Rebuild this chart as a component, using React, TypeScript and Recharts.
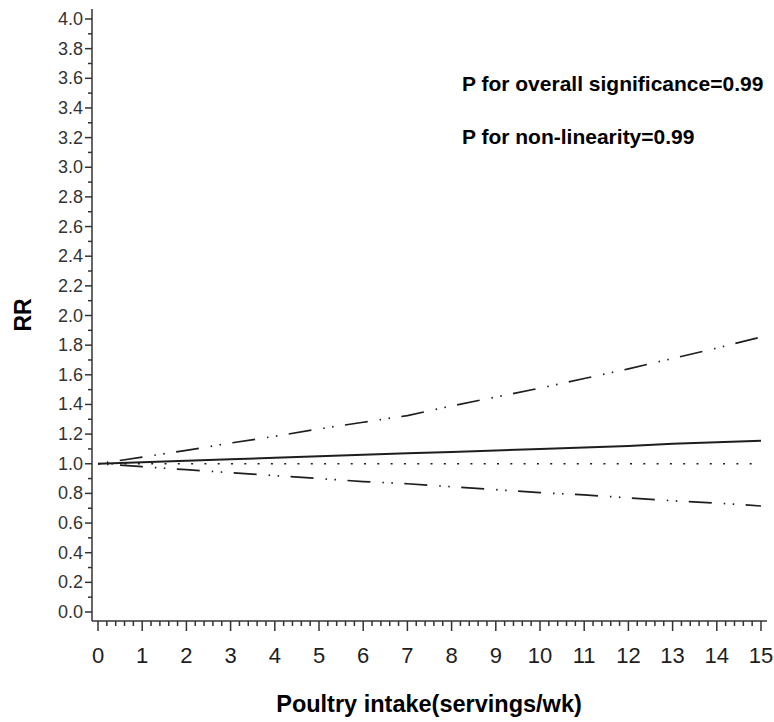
import React from 'react';
import { LineChart, Line, XAxis, YAxis } from 'recharts';

// servings/wk at which the curves were read
const intake = [0, 1, 2, 3, 4, 5, 6, 7, 8, 9, 10, 11, 12, 13, 14, 15];
// pooled relative risk (solid line)
const rrEstimate = [1.0, 1.01, 1.02, 1.03, 1.04, 1.05, 1.06, 1.07, 1.08, 1.09, 1.1, 1.11, 1.12, 1.135, 1.145, 1.155];
// upper 95% CI (dash-dot-dot)
const upperCI = [1.0, 1.045, 1.09, 1.14, 1.185, 1.235, 1.28, 1.325, 1.39, 1.45, 1.51, 1.575, 1.64, 1.71, 1.78, 1.855];
// lower 95% CI (dash-dot-dot)
const lowerCI = [1.0, 0.98, 0.96, 0.94, 0.92, 0.9, 0.88, 0.865, 0.845, 0.825, 0.805, 0.79, 0.77, 0.75, 0.735, 0.715];
// reference RR = 1 (dotted)
const reference = [1, 1, 1, 1, 1, 1, 1, 1, 1, 1, 1, 1, 1, 1, 1, 1];

const xMajorTicks = [0, 1, 2, 3, 4, 5, 6, 7, 8, 9, 10, 11, 12, 13, 14, 15];
const yMajorTicks = ['0.0', '0.2', '0.4', '0.6', '0.8', '1.0', '1.2', '1.4', '1.6', '1.8', '2.0', '2.2', '2.4', '2.6', '2.8', '3.0', '3.2', '3.4', '3.6', '3.8', '4.0'];

const annotations = ['P for overall significance=0.99', 'P for non-linearity=0.99'];

const rows = intake.map((x, i) => ({
  x,
  rr: rrEstimate[i],
  upper: upperCI[i],
  lower: lowerCI[i],
  ref: reference[i],
}));

// minor ticks every 0.2 on x, every 0.1 on y
const xTicks: number[] = [];
for (let i = 0; i <= 75; i++) xTicks.push(Number((i * 0.2).toFixed(1)));
const yTicks: number[] = [];
for (let i = 0; i <= 40; i++) yTicks.push(Number((i * 0.1).toFixed(1)));

const AXIS = '#333';
const INK = '#1e1e1e';
const FONT = '"Liberation Sans", Arial, sans-serif';

const XTick = (props: any) => {
  const { x, y, payload } = props;
  const major = xMajorTicks.includes(payload.value);
  return (
    <g>
      <line x1={x} x2={x} y1={y} y2={y + (major ? 10 : 5)} stroke={AXIS} strokeWidth={1.5} />
      {major && (
        <text x={x} y={y + 42} textAnchor="middle" fontSize={22} fontFamily={FONT} fill={INK}>
          {payload.value}
        </text>
      )}
    </g>
  );
};

const YTick = (props: any) => {
  const { x, y, payload } = props;
  const label = payload.value.toFixed(1);
  const major = yMajorTicks.includes(label);
  return (
    <g>
      <line x1={x - (major ? 7 : 4)} x2={x} y1={y} y2={y} stroke={AXIS} strokeWidth={1.5} />
      {major && (
        <text x={x - 9} y={y + 6} textAnchor="end" fontSize={18} fontFamily={FONT} fill="#333">
          {label}
        </text>
      )}
    </g>
  );
};

const App: React.FC = () => {
  return (
    <div style={{ position: 'absolute', left: 0, top: 0, background: '#fff' }}>
      <LineChart width={774} height={722} data={rows} margin={{ top: 9, right: 7, left: 0, bottom: 0 }}>
        <XAxis
          type="number"
          dataKey="x"
          domain={[0, 15]}
          ticks={xTicks}
          interval={0}
          padding={{ left: 6, right: 6 }}
          height={101}
          tickSize={0}
          tickMargin={0}
          tickLine={false}
          tick={<XTick />}
          axisLine={{ stroke: AXIS, strokeWidth: 1.5 }}
        />
        <YAxis
          type="number"
          domain={[0, 4]}
          ticks={yTicks}
          interval={0}
          padding={{ top: 10, bottom: 9 }}
          width={92}
          tickSize={0}
          tickMargin={0}
          tickLine={false}
          tick={<YTick />}
          axisLine={{ stroke: AXIS, strokeWidth: 1.5 }}
        />
        <Line dataKey="ref" stroke={INK} strokeWidth={1.7} strokeDasharray="2 11.3" dot={false} isAnimationActive={false} />
        <Line dataKey="upper" stroke={INK} strokeWidth={1.7} strokeDasharray="23 12 1.5 7.5 1.5 11.5" strokeDashoffset={35} dot={false} isAnimationActive={false} />
        <Line dataKey="lower" stroke={INK} strokeWidth={1.7} strokeDasharray="23 12 1.5 7.5 1.5 11.5" strokeDashoffset={35} dot={false} isAnimationActive={false} />
        <Line dataKey="rr" stroke={INK} strokeWidth={2} dot={false} isAnimationActive={false} />
        <text x={462} y={91} fontSize={21} fontWeight="bold" fontFamily={FONT} fill="#000">
          {annotations[0]}
        </text>
        <text x={462} y={144} fontSize={21} fontWeight="bold" fontFamily={FONT} fill="#000">
          {annotations[1]}
        </text>
        <text x={429} y={712} textAnchor="middle" fontSize={23.5} fontWeight="bold" fontFamily={FONT} fill="#000">
          Poultry intake(servings/wk)
        </text>
        <text transform="translate(31,315) rotate(-90)" textAnchor="middle" fontSize={23} fontWeight="bold" fontFamily={FONT} fill="#000">
          RR
        </text>
      </LineChart>
    </div>
  );
};

export default App;
